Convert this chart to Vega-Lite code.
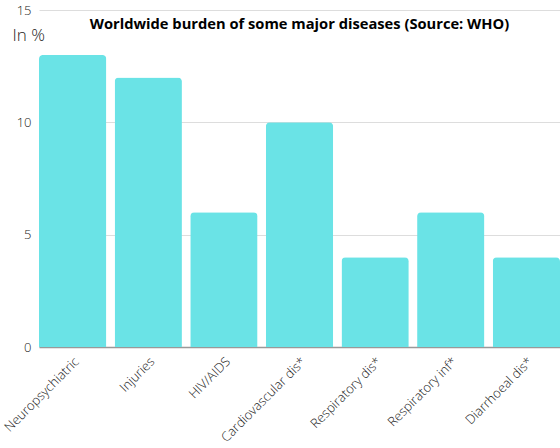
{
  "$schema": "https://vega.github.io/schema/vega-lite/v6.json",
  "width": 521,
  "height": 337,
  "autosize": {"type": "none"},
  "padding": {"left": 39, "top": 10, "right": 0, "bottom": 101},
  "title": {
    "text": "Worldwide burden of some major diseases (Source: WHO)",
    "anchor": "middle",
    "offset": -28,
    "fontSize": 14.7,
    "fontWeight": "bold",
    "font": "Open Sans",
    "color": "#000000"
  },
  "data": {
    "values": [
      {"disease": "Neuropsychiatric", "share": 13},
      {"disease": "Injuries", "share": 12},
      {"disease": "HIV/AIDS", "share": 6},
      {"disease": "Cardiovascular dis*", "share": 10},
      {"disease": "Respiratory dis*", "share": 4},
      {"disease": "Respiratory inf*", "share": 6},
      {"disease": "Diarrhoeal dis*", "share": 4}
    ]
  },
  "mark": {"type": "bar", "color": "#6ae3e6", "cornerRadiusTopLeft": 4, "cornerRadiusTopRight": 4},
  "encoding": {
    "x": {
      "field": "disease",
      "type": "nominal",
      "sort": null,
      "scale": {"paddingInner": 0.11, "paddingOuter": 0},
      "axis": {
        "title": null,
        "labelAngle": -45,
        "labelAlign": "right",
        "labelBaseline": "top",
        "labelFont": "Open Sans",
        "labelFontWeight": 300,
        "labelFontSize": 13,
        "labelColor": "#222222",
        "labelPadding": 8,
        "labelBound": false,
        "labelOverlap": false,
        "ticks": false,
        "domainColor": "#999999",
        "domainWidth": 1.5,
        "grid": false
      }
    },
    "y": {
      "field": "share",
      "type": "quantitative",
      "scale": {"domain": [0, 15], "nice": false},
      "axis": {
        "values": [0, 5, 10, 15],
        "title": "In %",
        "titleAngle": 0,
        "titleAlign": "left",
        "titleBaseline": "middle",
        "titleX": -27,
        "titleY": 25,
        "titleFont": "Open Sans",
        "titleFontWeight": 300,
        "titleFontSize": 17,
        "titleColor": "#222222",
        "labelFont": "Open Sans",
        "labelFontWeight": 300,
        "labelFontSize": 13,
        "labelColor": "#222222",
        "labelPadding": 8,
        "ticks": false,
        "domain": false,
        "gridColor": "#dddddd",
        "gridWidth": 1
      }
    }
  },
  "config": {"view": {"stroke": null}}
}
